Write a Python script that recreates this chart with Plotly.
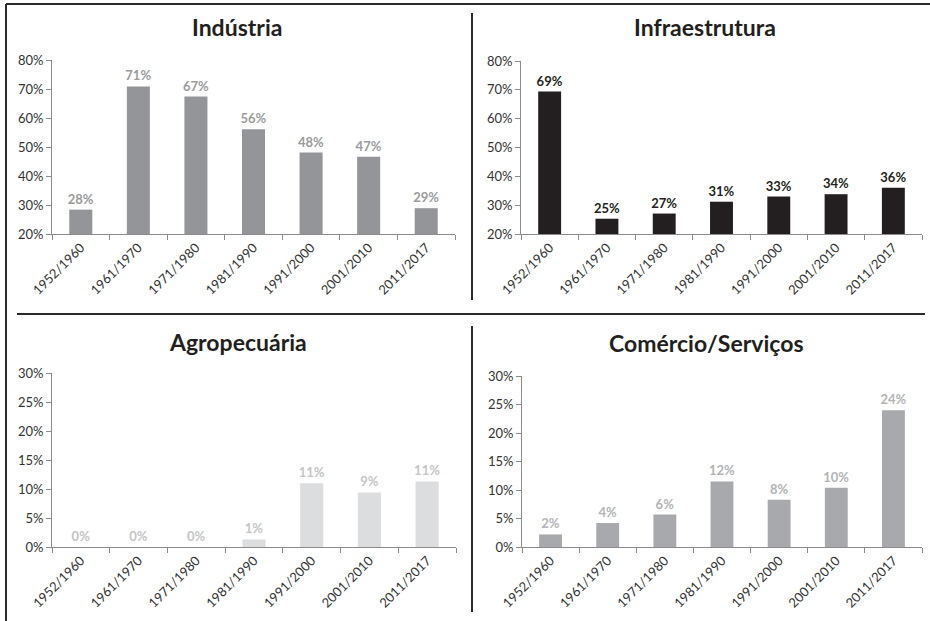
import plotly.graph_objects as go

W, H = 930, 621

periodos = ["1952/1960", "1961/1970", "1971/1980", "1981/1990",
            "1991/2000", "2001/2010", "2011/2017"]

industria = [28.4, 70.9, 67.4, 56.1, 48.1, 46.6, 28.9]
infraestrutura = [69.4, 25.3, 27.1, 31.2, 33.0, 33.8, 36.0]
agropecuaria = [0, 0, 0, 1.3, 11.0, 9.4, 11.3]
comercio = [2.2, 4.2, 5.7, 11.5, 8.3, 10.4, 24.0]

FONT = "Lato, 'Open Sans', sans-serif"


def px_x(v):
    return v / W


def px_y(v):
    return 1 - v / H


# panel: (name, values, bar colour, label colour, y range, dtick,
#         x0, x1, ytop, ybottom, title x, title y)
panels = [
    ("Indústria", industria, "#939598", "#9a9b9d", [20, 80], 10, 52, 455, 60, 234, 237, 27),
    ("Infraestrutura", infraestrutura, "#231f20", "#231f20", [20, 80], 10, 521, 922, 61, 234, 705, 27),
    ("Agropecuária", agropecuaria, "#dcdddf", "#c4c5c7", [0, 30], 5, 52, 456, 373, 547, 238, 342),
    ("Comércio/Serviços", comercio, "#a7a9ac", "#b3b4b6", [0, 30], 5, 522, 922, 376, 547, 706, 343),
]

fig = go.Figure()
annotations = []

for i, (name, vals, col, lcol, yr, dt_, x0, x1, yt, yb, tx, ty) in enumerate(panels):
    n = "" if i == 0 else str(i + 1)
    # bars start at the axis minimum (Excel style)
    fig.add_trace(
        go.Bar(
            x=periodos,
            y=[v - yr[0] for v in vals],
            base=yr[0],
            customdata=vals,
            xaxis="x" + n,
            yaxis="y" + n,
            marker=dict(color=col, line=dict(width=0)),
            width=0.4,
            texttemplate="%{customdata:.0f}%",
            textposition="outside",
            constraintext="none",
            textfont=dict(family=FONT, size=13, color=lcol, weight="bold"),
            cliponaxis=False,
            showlegend=False,
            hoverinfo="skip",
        )
    )

    axis_style = dict(
        showline=True,
        linecolor="#8c8c8c",
        linewidth=1,
        showgrid=False,
        zeroline=False,
        automargin=False,
        ticks="outside",
        ticklen=5,
        tickcolor="#8c8c8c",
        tickfont=dict(family=FONT, size=13, color="#333333"),
    )
    fig.layout["xaxis" + n] = dict(
        axis_style,
        domain=[px_x(x0), px_x(x1)],
        anchor="y" + n,
        type="category",
        range=[-0.5, 6.5],
        tickangle=-45,
        tickson="boundaries",
    )
    fig.layout["yaxis" + n] = dict(
        axis_style,
        domain=[px_y(yb), px_y(yt)],
        anchor="x" + n,
        range=yr,
        dtick=dt_,
        ticksuffix="%",
    )
    annotations.append(
        dict(
            text="<b>%s</b>" % name,
            x=px_x(tx),
            y=px_y(ty),
            xref="paper",
            yref="paper",
            showarrow=False,
            font=dict(family=FONT, size=23, color="#231f20"),
            xanchor="center",
            yanchor="middle",
        )
    )

line = dict(color="#2b2b2b", width=2)
shapes = [
    # outer border left and top
    dict(type="line", xref="paper", yref="paper", x0=px_x(6), x1=px_x(6), y0=px_y(4), y1=0, line=line),
    dict(type="line", xref="paper", yref="paper", x0=px_x(6), x1=1, y0=px_y(4), y1=px_y(4), line=line),
    # dividers
    dict(type="line", xref="paper", yref="paper", x0=px_x(472), x1=px_x(472), y0=px_y(13), y1=px_y(300), line=line),
    dict(type="line", xref="paper", yref="paper", x0=px_x(17), x1=px_x(925), y0=px_y(314), y1=px_y(314), line=line),
    dict(type="line", xref="paper", yref="paper", x0=px_x(472), x1=px_x(472), y0=px_y(326), y1=px_y(612), line=line),
]

fig.update_layout(
    width=W,
    height=H,
    margin=dict(l=0, r=0, t=0, b=0),
    paper_bgcolor="white",
    plot_bgcolor="white",
    annotations=annotations,
    shapes=shapes,
    font=dict(family=FONT),
)

# page body has a default 8px margin; drop it so the figure fills the window
fig.write_html(
    "out.html",
    config={"displayModeBar": False},
    post_script="document.body.style.margin='0';",
)
